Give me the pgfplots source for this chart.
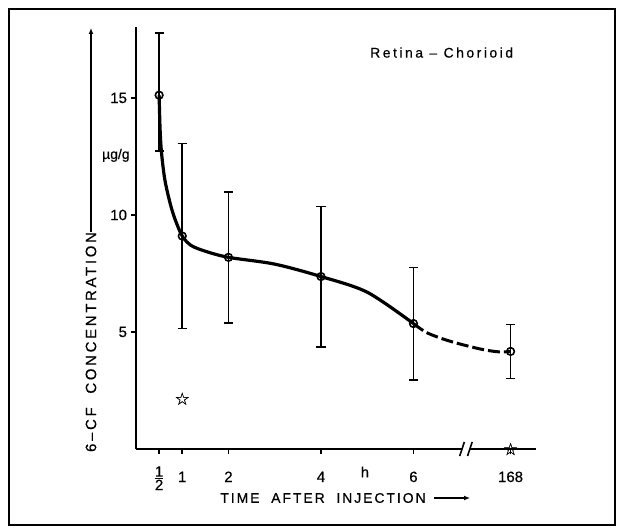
\documentclass[border=0pt]{standalone}
\usepackage{fontspec}
\setmainfont[FakeBold=0.5]{Liberation Sans}
\newfontfamily\spc[LetterSpace=18,FakeBold=0.5]{Liberation Sans}
\newfontfamily\spx[LetterSpace=14,FakeBold=0.5]{Liberation Sans}
\newfontfamily\djv[FakeBold=0.5]{DejaVu Sans}
\usepackage{pgfplots}
\pgfplotsset{compat=1.18}
\usetikzlibrary{arrows.meta}

\begin{document}
\begin{tikzpicture}
\useasboundingbox (-68bp,-40.5bp) rectangle (241bp,224.5bp);
\draw[line width=1.3bp] (-63.5bp,-38bp) rectangle (239.5bp,220bp);
\begin{axis}[
  at={(0,0)}, anchor=south west,
  scale only axis, width=200bp, height=211.2bp,
  xmin=0, xmax=8.65, ymin=0, ymax=18.05,
  axis x line=bottom, axis y line=left,
  x axis line style={draw=none},
  y axis line style={-, line width=1bp},
  xtick={0.5,1,2,4,6,8.1},
  xticklabels={$\frac{\mbox{1}}{\mbox{2}}$,1,2,4,6,168},
  ytick={5,10,15},
  tick align=outside, major tick length=2.5bp,
  tick style={line width=0.8bp, black},
  ticklabel style={font=\fontsize{7.5}{8}\selectfont},
  /pgf/number format/assume math mode=true,
  xticklabel style={anchor=base, yshift=-14bp},
  yticklabel style={xshift=1.5bp},
  clip=false,
]
% mean values with error bars
\addplot[only marks, mark=o, mark size=1.9bp, line width=0.8bp,
  error bars/.cd, y dir=both, y explicit,
  error bar style={line width=0.8bp},
  error mark options={rotate=90, mark size=2.3bp, line width=0.8bp}]
 coordinates {(0.5,15.12) += (0,2.66) -= (0,2.39)
              (1,9.10) +- (0,3.95)
              (2,8.19) +- (0,2.80)
              (4,7.37) +- (0,3.00)
              (6,5.36) +- (0,2.40)
              (8.1,4.17) +- (0,1.15)};
% fitted curve, solid part
\addplot[black, line width=1.6bp, smooth, tension=0.5]
 coordinates {(0.5,15.12) (0.52,13.7) (0.55,12.7) (0.62,11.55)
              (0.73,10.56) (0.84,9.84) (1,9.1) (1.19,8.7) (1.5,8.45)
              (2,8.19) (3,7.9) (4,7.37) (5,6.7) (6,5.36)};
% dashed part up to 168 h
\addplot[black, line width=1.5bp, smooth, tension=0.5, dash pattern=on 6bp off 2bp]
 coordinates {(6,5.36) (6.3,4.96) (6.8,4.6) (7.45,4.27) (7.85,4.15) (8.1,4.17)};
% significance stars
\addplot[only marks, mark=text, text mark={\djv ☆}, text mark as node,
  text mark style={font=\fontsize{8.5}{8.5}\selectfont}]
 coordinates {(1,2.15) (8.1,0)};
% broken x axis
\draw[line width=1bp] (axis cs:0,0) -- (axis cs:7.05,0);
\draw[line width=1bp] (axis cs:7.22,0) -- (axis cs:8.65,0);
\draw[line width=0.8bp] (axis cs:7.0,-0.3) -- (axis cs:7.1,0.3);
\draw[line width=0.8bp] (axis cs:7.17,-0.3) -- (axis cs:7.27,0.3);
\node[font=\spc\fontsize{7}{8}\selectfont] at (axis cs:6.61,16.94) {Retina – Chorioid};
\node[font=\fontsize{7.5}{8}\selectfont] at (axis cs:4.95,0) [yshift=-11.5bp] {h};
\node[anchor=east, font=\fontsize{7}{8}\selectfont, inner sep=0pt] at (axis cs:0,12.55) [xshift=-3bp] {µg/g};
\end{axis}
\node[rotate=90, inner sep=0pt, font=\spc\fontsize{7.5}{9}\selectfont] at (-22.5bp,53.5bp) {6–CF\ \ CONCENTRATION};
\draw[line width=0.6bp, -{Latex[length=3bp,width=2.5bp]}] (-22.5bp,108.5bp) -- (-22.5bp,210.5bp);
\node[anchor=west, inner sep=0pt, font=\spx\fontsize{7}{8}\selectfont] at (42bp,-24.5bp) {TIME\ \ AFTER\ \ INJECTION};
\draw[line width=0.6bp, -{Latex[length=3bp,width=2.5bp]}] (149bp,-24.5bp) -- (167bp,-24.5bp);
\end{tikzpicture}
\end{document}
